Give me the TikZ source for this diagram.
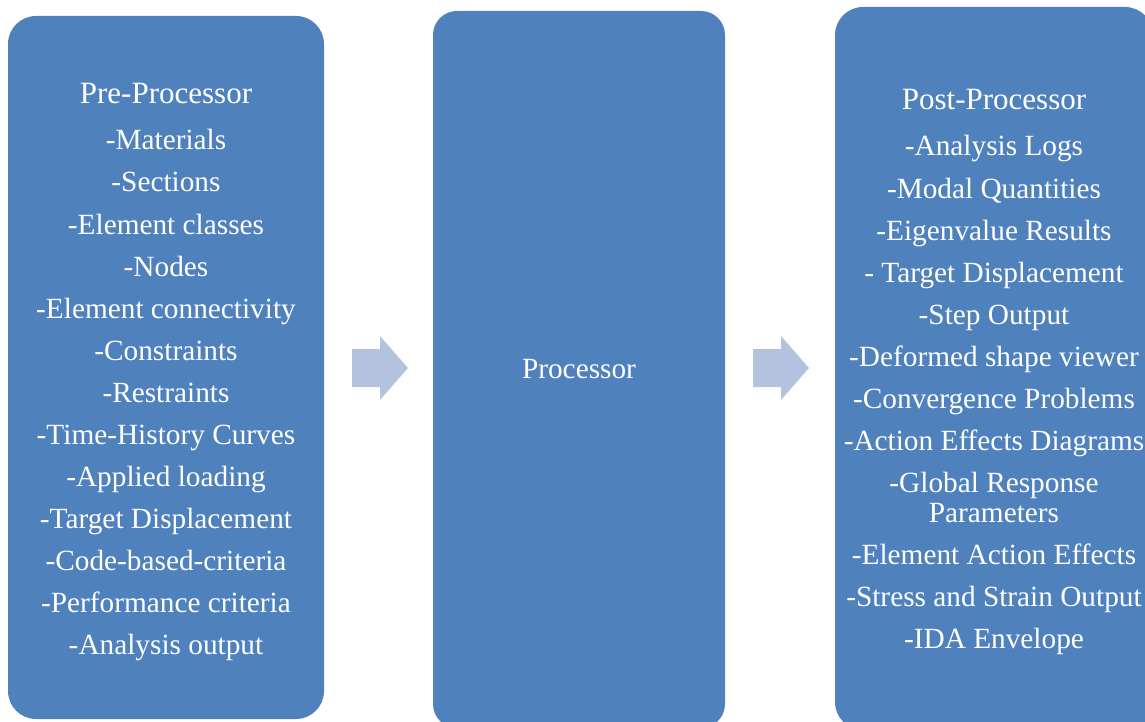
\documentclass[tikz,border=0pt]{standalone}
\usepackage{fontspec}
\setmainfont{Liberation Serif}
\usetikzlibrary{calc}
\definecolor{boxblue}{HTML}{4F81BD}
\definecolor{arrowblue}{HTML}{B3C2DE}
\tikzset{
  stagebox/.style={fill=boxblue, draw=none, rounded corners=#1, inner sep=0pt},
  stagebox/.default=28pt,
  titletext/.style={anchor=base, text=white, inner sep=0pt, font=\fontsize{31}{36}\selectfont},
  itemtext/.style={anchor=base, text=white, inner sep=0pt, font=\fontsize{29.3}{34}\selectfont},
  flowarrow/.style={fill=arrowblue, draw=none}
}
\begin{document}
\begin{tikzpicture}[x=1pt,y=-1pt]
  \useasboundingbox (0,0) rectangle (1145,722);
  \clip (0,0) rectangle (1145,722);

  % the three stages
  \node[stagebox, minimum width=316pt, minimum height=703pt] (pre) at (166,367.5) {};
  \node[stagebox=24pt, minimum width=292pt, minimum height=717pt] (proc) at (579,369.5) {};
  \node[stagebox, minimum width=318pt, minimum height=723pt] (post) at (994,368.5) {};

  % block arrows between the stages
  \coordinate (a1) at (380,368);
  \coordinate (a2) at (781,368);
  \foreach \c in {a1,a2}{
    \fill[flowarrow] ($(\c)+(-28,-19)$) -- ($(\c)+(0,-19)$) -- ($(\c)+(0,-32)$)
      -- ($(\c)+(28,0)$) -- ($(\c)+(0,32)$) -- ($(\c)+(0,19)$) -- ($(\c)+(-28,19)$) -- cycle;
  }

  % pre-processor contents
  \node[titletext] (pre-title) at (166,103.3) {Pre-Processor};
  \foreach \t [count=\i from 0] in {-Materials,-Sections,-Element classes,-Nodes,
      -Element connectivity,-Constraints,-Restraints,-Time-History Curves,
      -Applied loading,-Target Displacement,-Code-based-criteria,
      -Performance criteria,-Analysis output}{
    \node[itemtext] (pre-\i) at (166,150+42*\i) {\t};
  }

  % processor
  \node[itemtext] (proc-title) at (579,378) {Processor};

  % post-processor contents
  \node[titletext] (post-title) at (994,109.3) {Post-Processor};
  \foreach \t [count=\i from 0] in {-Analysis Logs,-Modal Quantities,
      -Eigenvalue Results,- Target Displacement,-Step Output,
      -Deformed shape viewer,-Convergence Problems,-Action Effects Diagrams,
      -Global Response}{
    \node[itemtext] (post-\i) at (994,156+42*\i) {\t};
  }
  \node[itemtext] (post-9b) at (994,522) {Parameters};
  \foreach \t [count=\i from 10] in {-Element Action Effects,
      -Stress and Strain Output,-IDA Envelope}{
    \node[itemtext] (post-\i) at (994,564+42*\i-420) {\t};
  }
\end{tikzpicture}
\end{document}
